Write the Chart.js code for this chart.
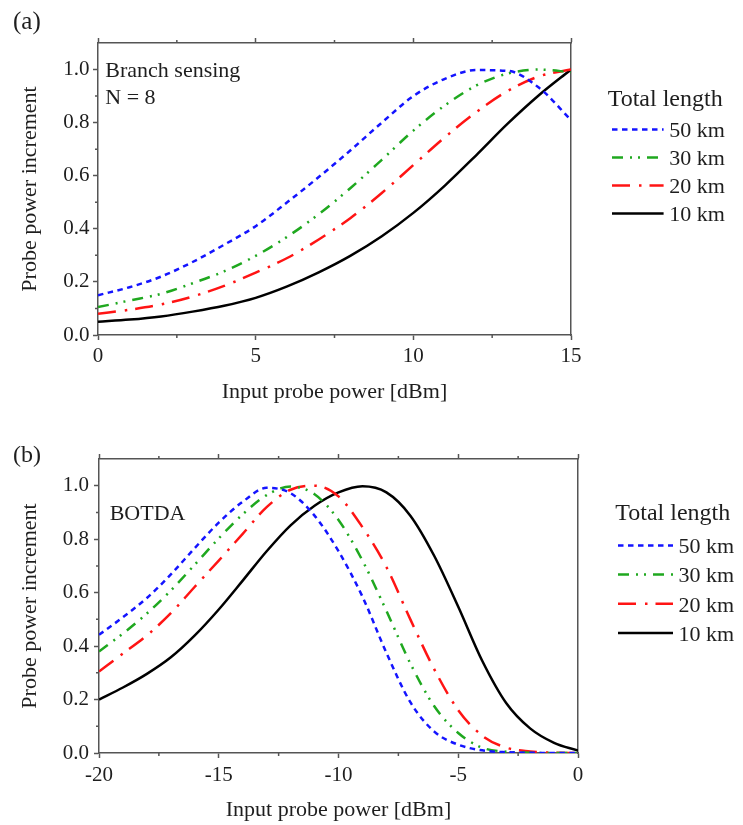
<!DOCTYPE html>
<html>
<head>
<meta charset="utf-8">
<script src="https://cdn.jsdelivr.net/npm/chart.js@4.4.1/dist/chart.umd.min.js"></script>
<style>
  html, body { margin: 0; padding: 0; background: #fff; }
  #wrap { position: relative; width: 743px; height: 825px; }
  canvas { position: absolute; left: 0; }
</style>
</head>
<body>
<div id="wrap">
  <canvas id="chartA" width="743" height="410" style="top:0"></canvas>
  <canvas id="chartB" width="743" height="415" style="top:410px"></canvas>
</div>
<script>
// Two stacked panels: (a) branch sensing, (b) BOTDA.
const SERIF = "'Liberation Serif', 'Times New Roman', serif";
const INK = '#1e1e1e';
const AXIS = '#555555';

const seriesNames = ['50 km', '30 km', '20 km', '10 km'];
const seriesColors = ['#1414ff', '#1fa81f', '#ff1414', '#000000'];
const seriesDashes = [[5.5, 4.5], [11, 7, 2, 6, 2, 7], [18, 9, 2.5, 8], []];

const yTicks = [0, 0.2, 0.4, 0.6, 0.8, 1.0];
const yMinor = [0.1, 0.3, 0.5, 0.7, 0.9];

// (a) input probe power 0..15 dBm
const powerA = [0, 1, 2, 3, 4, 5, 6, 7, 8, 9, 10, 11, 12, 13, 14, 15];
const branch50 = [0.15, 0.18, 0.22, 0.275, 0.34, 0.41, 0.50, 0.595, 0.695, 0.80, 0.90, 0.965, 0.998, 0.995, 0.93, 0.81];
const branch30 = [0.105, 0.13, 0.155, 0.195, 0.24, 0.298, 0.37, 0.455, 0.553, 0.66, 0.77, 0.865, 0.94, 0.985, 1.0, 0.99];
const branch20 = [0.08, 0.095, 0.115, 0.145, 0.185, 0.235, 0.29, 0.36, 0.44, 0.535, 0.64, 0.745, 0.84, 0.92, 0.975, 1.0];
const branch10 = [0.05, 0.058, 0.07, 0.088, 0.11, 0.14, 0.183, 0.236, 0.298, 0.372, 0.46, 0.563, 0.678, 0.797, 0.905, 1.0];
const xTicksA = [0, 5, 10, 15];
const xMinorA = [2.5, 7.5, 12.5];

// (b) input probe power -20..0 dBm
const powerB = [-20, -19, -18, -17, -16, -15, -14, -13, -12, -11, -10, -9, -8, -7, -6, -5, -4, -3, -2, -1, 0];
const botda50 = [0.442, 0.508, 0.58, 0.668, 0.767, 0.862, 0.94, 0.992, 0.972, 0.888, 0.755, 0.585, 0.375, 0.19, 0.08, 0.031, 0.01, 0.003, 0.001, 0, 0];
const botda30 = [0.38, 0.447, 0.522, 0.608, 0.705, 0.803, 0.893, 0.965, 0.997, 0.968, 0.872, 0.72, 0.532, 0.335, 0.175, 0.075, 0.02, 0.005, 0.001, 0, 0];
const botda20 = [0.305, 0.372, 0.44, 0.523, 0.622, 0.72, 0.82, 0.92, 0.985, 1.0, 0.96, 0.845, 0.696, 0.50, 0.313, 0.16, 0.065, 0.02, 0.006, 0.001, 0];
const botda10 = [0.20, 0.245, 0.296, 0.358, 0.44, 0.537, 0.645, 0.755, 0.852, 0.925, 0.975, 0.998, 0.975, 0.888, 0.737, 0.547, 0.345, 0.187, 0.092, 0.038, 0.009];
const xTicksB = [-20, -15, -10, -5, 0];
const xMinorB = [-17.5, -12.5, -7.5, -2.5];

Chart.defaults.font.family = SERIF;
Chart.defaults.color = INK;

// short minor ticks (Chart.js has no minor tick support)
const minorTicks = {
  id: 'minorTicks',
  afterDraw(chart, args, opts) {
    const { ctx, chartArea: a, scales } = chart;
    ctx.save();
    ctx.strokeStyle = AXIS;
    ctx.lineWidth = 1.5;
    ctx.beginPath();
    opts.x.forEach(v => {
      const px = scales.x.getPixelForValue(v);
      ctx.moveTo(px, a.bottom);
      ctx.lineTo(px, a.bottom + opts.len);
      ctx.moveTo(px, a.top);
      ctx.lineTo(px, a.top - opts.len);
    });
    opts.y.forEach(v => {
      const py = scales.y.getPixelForValue(v);
      ctx.moveTo(a.left, py);
      ctx.lineTo(a.left - opts.len, py);
    });
    ctx.stroke();
    ctx.restore();
  }
};

// panel tag, note inside the plot and the side legend
const panelText = {
  id: 'panelText',
  afterDraw(chart, args, o) {
    const { ctx, chartArea: a } = chart;
    ctx.save();
    ctx.fillStyle = INK;
    ctx.textAlign = 'left';
    ctx.textBaseline = 'alphabetic';
    ctx.font = `${o.tagSize}px ${SERIF}`;
    ctx.fillText(o.tag, o.tagX, o.tagY);
    ctx.font = `22px ${SERIF}`;
    o.notes.forEach((t, i) => ctx.fillText(t, a.left + o.noteDx, a.top + o.noteDy + i * 26.7));

    const lg = o.legend;
    ctx.font = `24px ${SERIF}`;
    ctx.fillText('Total length', a.right + lg.titleDx, a.top + lg.titleDy);
    chart.data.datasets.forEach((ds, i) => {
      const y = a.top + lg.rowDy + i * lg.rowGap;
      const x0 = a.right + lg.lineDx;
      ctx.strokeStyle = ds.borderColor;
      ctx.lineWidth = ds.borderWidth;
      ctx.setLineDash(ds.borderDash);
      ctx.beginPath();
      ctx.moveTo(x0, y);
      ctx.lineTo(x0 + lg.lineLen, y);
      ctx.stroke();
      ctx.setLineDash([]);
      ctx.font = `22px ${SERIF}`;
      ctx.fillText(ds.label, x0 + lg.lineLen + lg.textGap, y + 7.8);
    });
    ctx.restore();
  }
};

function fixed(size) {
  return (scale) => {
    if (scale.isHorizontal()) scale.height = size; else scale.width = size;
  };
}

function tickList(list) {
  return (scale) => { scale.ticks = list.map(v => ({ value: v })); };
}

function makePanel(canvas, p) {
  const datasets = p.series.map((ys, i) => ({
    label: seriesNames[i],
    data: p.xs.map((x, j) => ({ x, y: ys[j] })),
    borderColor: seriesColors[i],
    borderWidth: 2.5,
    borderDash: seriesDashes[i],
    pointRadius: 0,
    cubicInterpolationMode: 'monotone',
    fill: false,
  }));

  const tickGrid = {
    display: true,
    drawOnChartArea: false,
    drawTicks: true,
    tickLength: 5,
    tickColor: AXIS,
    tickWidth: 1.5,
  };
  const border = { display: true, color: AXIS, width: 1.5 };
  const tickFont = { family: SERIF, size: 21 };
  const titleFont = { family: SERIF, size: 22 };

  return new Chart(canvas, {
    type: 'line',
    data: { datasets },
    plugins: [minorTicks, panelText],
    options: {
      responsive: false,
      animation: false,
      devicePixelRatio: 1,
      layout: { padding: 0 },
      plugins: {
        legend: { display: false },
        tooltip: { enabled: false },
        minorTicks: { x: p.xMinor, y: yMinor, len: 3 },
        panelText: p.text,
      },
      scales: {
        x: {
          type: 'linear',
          position: 'bottom',
          min: p.xs[0],
          max: p.xs[p.xs.length - 1],
          afterBuildTicks: tickList(p.xTicks),
          afterFit: fixed(p.box.bottom),
          grid: tickGrid,
          border,
          ticks: { font: tickFont, color: INK, padding: p.xPad, maxRotation: 0, autoSkip: false, callback: v => String(v) },
          title: { display: true, text: 'Input probe power [dBm]', font: titleFont, color: INK, padding: { top: 0, bottom: p.xTitlePad } },
        },
        x2: {
          type: 'linear',
          position: 'top',
          min: p.xs[0],
          max: p.xs[p.xs.length - 1],
          afterBuildTicks: tickList(p.xTicks),
          afterFit: fixed(p.box.top),
          grid: tickGrid,
          border,
          ticks: { display: false },
        },
        y: {
          type: 'linear',
          position: 'left',
          min: 0,
          max: 1.1,
          afterBuildTicks: tickList(yTicks),
          afterFit: fixed(p.box.left),
          grid: tickGrid,
          border,
          ticks: { font: tickFont, color: INK, padding: p.yPad, autoSkip: false, callback: v => v.toFixed(1) },
          title: { display: true, text: 'Probe power increment', font: titleFont, color: INK, padding: { top: p.yTitlePad, bottom: 0 } },
        },
        y2: {
          type: 'linear',
          position: 'right',
          min: 0,
          max: 1.1,
          afterFit: fixed(p.box.right),
          grid: { display: false },
          border,
          ticks: { display: false },
        },
      },
    },
  });
}

makePanel(document.getElementById('chartA'), {
  xs: powerA,
  series: [branch50, branch30, branch20, branch10],
  xTicks: xTicksA,
  xMinor: xMinorA,
  box: { left: 98, right: 172, top: 43, bottom: 75 },
  xPad: 3.5,
  yPad: 3.5,
  xTitlePad: 4.8,
  yTitlePad: 17.5,
  text: {
    tag: '(a)', tagSize: 25, tagX: 13, tagY: 29,
    notes: ['Branch sensing', 'N = 8'], noteDx: 7.3, noteDy: 34,
    legend: { titleDx: 36.7, titleDy: 63.3, lineDx: 41, lineLen: 51.6, textGap: 5.7, rowDy: 86.6, rowGap: 28 },
  },
});

makePanel(document.getElementById('chartB'), {
  xs: powerB,
  series: [botda50, botda30, botda20, botda10],
  xTicks: xTicksB,
  xMinor: xMinorB,
  box: { left: 99, right: 165, top: 49, bottom: 72 },
  xPad: 5.3,
  yPad: 5,
  xTitlePad: 1.8,
  yTitlePad: 17.5,
  text: {
    tag: '(b)', tagSize: 24, tagX: 13, tagY: 51.5,
    notes: ['BOTDA'], noteDx: 10.7, noteDy: 60.7,
    legend: { titleDx: 37.3, titleDy: 60.7, lineDx: 40, lineLen: 55, textGap: 5.6, rowDy: 86.4, rowGap: 29.2 },
  },
});
</script>
</body>
</html>
